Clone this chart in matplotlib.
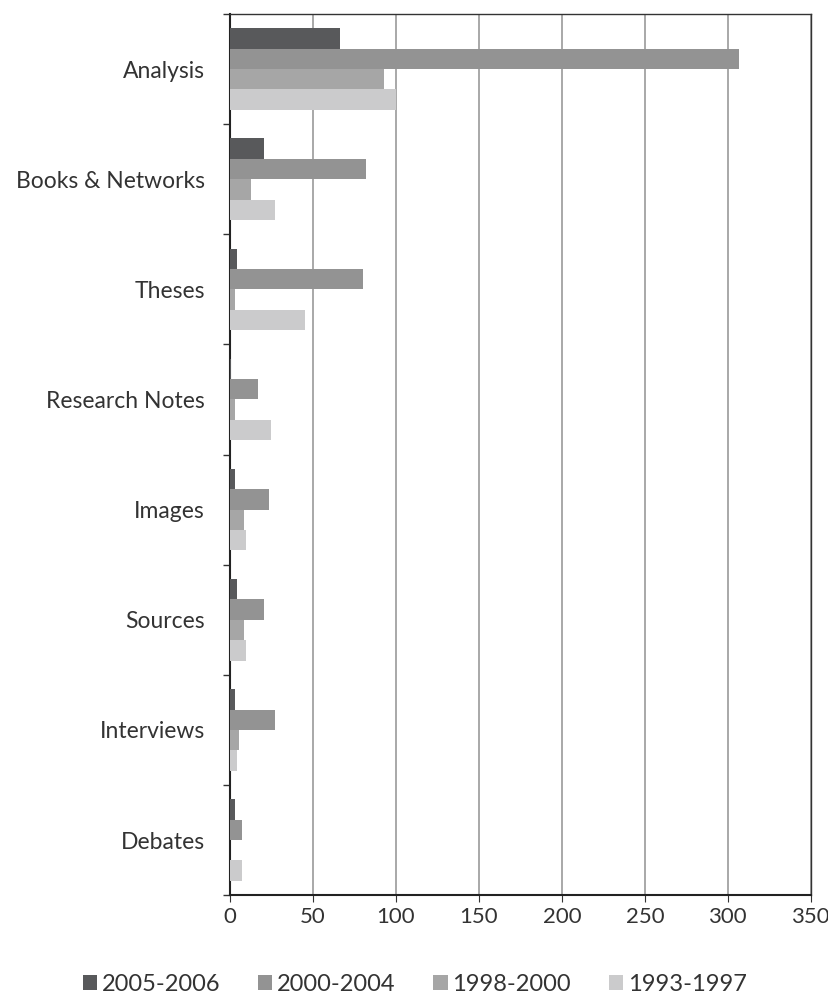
import numpy as np
import matplotlib.pyplot as plt

categories = ['Analysis', 'Books & Networks', 'Theses', 'Research Notes',
              'Images', 'Sources', 'Interviews', 'Debates']
periods = ['2005-2006', '2000-2004', '1998-2000', '1993-1997']
v2005 = [66, 20.5, 4, 0.5, 3, 4.4, 3, 3]
v2000 = [307, 82, 80, 16.7, 23.5, 20.7, 27, 7.4]
v1998 = [93, 12.5, 3, 3, 8.4, 8.4, 5.6, 0]
v1993 = [100, 27, 45, 24.7, 9.6, 9.6, 4.4, 7.4]
colors = ['#58595b', '#939393', '#a6a6a6', '#cbcbcc']

plt.rcParams['font.family'] = ['Lato', 'DejaVu Sans']

fig = plt.figure(figsize=(8.29, 9.99), dpi=100)
ax = fig.add_axes([0.2775, 0.104, 0.7005, 0.882])

y = np.arange(len(categories))
h = 0.185
series = [v2005, v2000, v1998, v1993]
for i, vals in enumerate(series):
    ax.barh(y + (i - 1.5) * h, vals, height=h, color=colors[i],
            label=periods[i], zorder=3)

ax.set_xlim(0, 350)
ax.set_xticks(range(0, 351, 50))
ax.set_ylim(len(categories) - 0.5, -0.5)
ax.set_yticks(y)
ax.set_yticklabels(categories, color='#333333')
ax.set_yticks(np.arange(-0.5, len(categories), 1), minor=True)
ax.tick_params(axis='y', which='major', length=0, pad=18, labelsize=16.5)
ax.tick_params(axis='y', which='minor', length=5, width=1, color='#333333')
ax.tick_params(axis='x', length=5, labelsize=16, color='#333333',
               labelcolor='#333333')
ax.xaxis.grid(True, color='#999999', linewidth=1.2, zorder=0)

for s in ['left', 'bottom']:
    ax.spines[s].set_color('#222222')
    ax.spines[s].set_linewidth(1.5)
for s in ['top', 'right']:
    ax.spines[s].set_color('#333333')
    ax.spines[s].set_linewidth(1)

leg = ax.legend(loc='upper center', bbox_to_anchor=(0.318, -0.065), ncol=4,
                frameon=False, fontsize=17, handlelength=0.6, handleheight=0.6,
                handletextpad=0.2, columnspacing=1.6)
for t in leg.get_texts():
    t.set_color('#333333')

fig.savefig('out.png', dpi=100)
